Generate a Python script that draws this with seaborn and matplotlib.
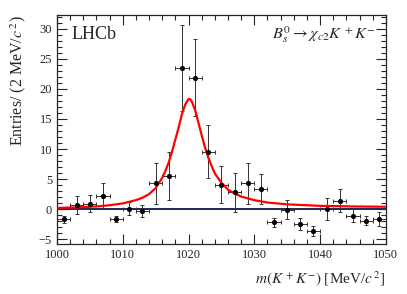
import pandas as pd
import matplotlib
matplotlib.use('Agg')
import matplotlib.pyplot as plt
import seaborn as sns
from matplotlib.ticker import MultipleLocator

# data points (bin centres, 2 MeV bins)
mass = [1001, 1003, 1005, 1007, 1009, 1011, 1013, 1015, 1017, 1019, 1021, 1023, 1025,
        1027, 1029, 1031, 1033, 1035, 1037, 1039, 1041, 1043, 1045, 1047, 1049]
entries = [-1.7, 0.7, 0.9, 2.2, -1.6, 0.1, -0.3, 4.3, 5.5, 23.5, 21.9, 9.55, 4.1,
           2.8, 4.3, 3.3, -2.2, -0.1, -2.4, -3.6, 0.0, 1.4, -1.1, -1.9, -1.65]
err_y = [0.6, 1.45, 1.4, 2.1, 0.5, 1.1, 1.0, 3.4, 4.0, 7.1, 6.4, 4.4, 3.1,
         3.2, 3.4, 2.5, 0.8, 1.6, 1.0, 0.8, 1.85, 1.9, 1.05, 0.7, 1.2]
err_x = [1.0] * len(mass)

# fit curve
fit_x = [1000, 1003, 1006, 1008, 1010, 1012, 1013, 1014, 1015, 1016, 1016.5, 1017, 1017.5,
         1018, 1018.5, 1019, 1019.5, 1019.75, 1020, 1020.25, 1020.5, 1021, 1021.5, 1022,
         1022.5, 1023, 1023.5, 1024, 1025, 1026, 1027, 1028, 1030, 1032, 1035, 1040, 1045, 1050]
fit_y = [0.2, 0.3, 0.45, 0.65, 0.95, 1.5, 1.9, 2.5, 3.5, 5.2, 6.4, 7.8, 9.6,
         11.6, 13.6, 15.8, 17.4, 17.9, 18.3, 18.3, 17.9, 16.5, 14.4, 12.3,
         10.3, 8.6, 7.2, 5.95, 4.4, 3.25, 2.6, 2.1, 1.5, 1.1, 0.8, 0.55, 0.45, 0.4]

sns.set_style('ticks')
plt.rcParams['font.family'] = ['Liberation Serif', 'DejaVu Serif']
plt.rcParams['mathtext.fontset'] = 'stix'

df = pd.DataFrame({'mass': mass, 'entries': entries})
fit = pd.DataFrame({'x': fit_x, 'y': fit_y})

fig = plt.figure(figsize=(4.07, 2.94), dpi=100)
ax = fig.add_axes([0.140, 0.170, 0.808, 0.779])

ax.axhline(0, color='#1e2850', lw=1.4, zorder=1)
ax.errorbar(mass, entries, yerr=err_y, xerr=err_x, fmt='none', ecolor='#333333',
            elinewidth=0.7, capsize=1.2, capthick=0.7, zorder=2)
sns.scatterplot(data=df, x='mass', y='entries', ax=ax, color='black', s=14,
                edgecolor='black', linewidth=0, zorder=4)
sns.lineplot(data=fit, x='x', y='y', ax=ax, color='red', lw=1.6, zorder=3, sort=False)

ax.set_xlim(1000, 1050)
ax.set_ylim(-5.8, 32.3)
ax.xaxis.set_major_locator(MultipleLocator(10))
ax.xaxis.set_minor_locator(MultipleLocator(2))
ax.yaxis.set_major_locator(MultipleLocator(5))
ax.yaxis.set_minor_locator(MultipleLocator(1))
ax.tick_params(which='both', direction='in', top=True, right=True, labelsize=9, width=0.8)
ax.tick_params(which='major', length=7)
ax.tick_params(which='minor', length=3.5)
for s in ax.spines.values():
    s.set_linewidth(0.9)

ax.set_xlabel(r'$m(K^{\,+}K^{-})$ [MeV/$c^{\,2}$]', fontsize=11, loc='right', labelpad=6)
ax.set_ylabel(r'Entries/ (2 MeV/$c^{\,2}$)', fontsize=11.5, loc='top', labelpad=8)

ax.text(0.045, 0.915, 'LHCb', transform=ax.transAxes, fontsize=13, va='center', ha='left')
ax.text(0.97, 0.915, r'$B^{0}_{s} \rightarrow \chi_{c2}K^{\,+}K^{-}$', transform=ax.transAxes,
        fontsize=11.7, va='center', ha='right')

fig.savefig('out.png', dpi=100)
